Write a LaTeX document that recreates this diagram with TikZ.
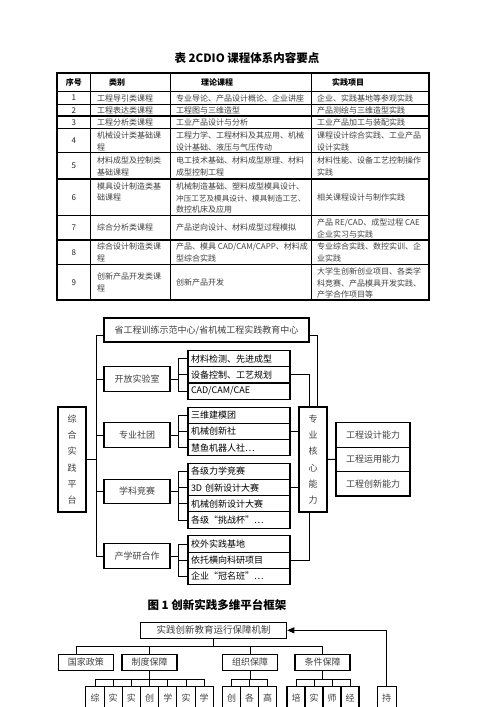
\documentclass[tikz,border=0pt]{standalone}
\usepackage{fontspec}
\setmainfont{Noto Sans CJK SC}
\usetikzlibrary{arrows.meta}

\tikzset{
  box/.style={draw, line width=1.1pt, inner sep=0pt, text=black!75, font=\fontsize{9}{11}\selectfont},
  item/.style={draw, line width=1.1pt, inner sep=0pt, minimum width=102pt, minimum height=16.2pt, text width=96pt, align=left, font=\fontsize{9}{11}\selectfont},
  upright/.style={box, align=center, minimum width=28pt, minimum height=105pt, font=\fontsize{9}{16.2}\selectfont},
  tall/.style={box, align=center, anchor=north, minimum width=18.2pt, minimum height=40pt, font=\fontsize{9}{16}\selectfont},
  link/.style={line width=1pt},
  cell/.style={anchor=west, align=left, inner sep=0pt, text=black!75, font=\fontsize{8}{11.8}\selectfont},
  num/.style={inner sep=0pt, text=black!85, font=\fontsize{8}{10}\selectfont},
  head/.style={inner sep=0pt, font=\fontsize{8}{10}\selectfont\bfseries},
  thin/.style={line width=0.8pt},
  heavy/.style={line width=1.3pt},
}

\begin{document}
\begin{tikzpicture}[x=1pt, y=-1pt]
\useasboundingbox (0,0) rectangle (500,707);
\clip (0,0) rectangle (500,707);

% Table title
\node[font=\fontsize{11.5}{13}\selectfont\bfseries] (ttitle) at (247,58) {表 2CDIO 课程体系内容要点};
% Table rules
\draw[heavy] (57,73) rectangle (429,300);
\draw[heavy] (57,91.7) -- (429,91.7);
\foreach \y in {104.3,128.3,152.7,215.7,264.3} \draw[thin] (57,\y) -- (429,\y);
\foreach \y in {116,179,240} \draw[heavy] (57,\y) -- (429,\y);
\foreach \x in {90.5,170,311} \draw[thin] (\x,73) -- (\x,300);
% Header
\node[head] (h1) at (73.8,82.4) {序号};
\node[head] (h2) at (117,82.4) {类别};
\node[head] (h3) at (217,82.4) {理论课程};
\node[head] (h4) at (348,82.4) {实践项目};
% Rows
\node[num] (n1) at (73.8,98) {1};
\node[cell] (a1) at (97,98) {工程导引类课程};
\node[cell] (b1) at (176,98) {专业导论、产品设计概论、企业讲座};
\node[cell] (c1) at (317,98) {企业、实践基地等参观实践};
\node[num] (n2) at (73.8,110.2) {2};
\node[cell] (a2) at (97,110.2) {工程表达类课程};
\node[cell] (b2) at (176,110.2) {工程图与三维造型};
\node[cell] (c2) at (317,110.2) {产品测绘与三维造型实践};
\node[num] (n3) at (73.8,122.2) {3};
\node[cell] (a3) at (97,122.2) {工程分析类课程};
\node[cell] (b3) at (176,122.2) {工业产品设计与分析};
\node[cell] (c3) at (317,122.2) {工业产品加工与装配实践};
\node[num] (n4) at (73.8,140.5) {4};
\node[cell] (a4) at (97,141.5) {机械设计类基础课\\程};
\node[cell] (b4) at (176,141.5) {工程力学、工程材料及其应用、机械\\设计基础、液压与气压传动};
\node[cell] (c4) at (317,141.5) {课程设计综合实践、工业产品\\设计实践};
\node[num] (n5) at (73.8,165.9) {5};
\node[cell] (a5) at (97,166.5) {材料成型及控制类\\基础课程};
\node[cell] (b5) at (176,166.5) {电工技术基础、材料成型原理、材料\\成型控制工程};
\node[cell] (c5) at (317,166.5) {材料性能、设备工艺控制操作\\实践};
\node[num] (n6) at (73.8,197.4) {6};
\node[cell] (a6) at (97,192) {模具设计制造类基\\础课程};
\node[cell] (b6) at (176,198) {机械制造基础、塑料成型模具设计、\\{\fontsize{7.6}{11.8}\selectfont 冲压工艺及模具设计、模具制造工艺、}\\数控机床及应用};
\node[cell] (c6) at (317,197.4) {相关课程设计与制作实践};
\node[num] (n7) at (73.8,227.9) {7};
\node[cell] (a7) at (97,227.9) {综合分析类课程};
\node[cell] (b7) at (176,227.9) {产品逆向设计、材料成型过程模拟};
\node[cell] (c7) at (317,228.5) {产品 RE/CAD、成型过程 CAE\\企业实习与实践};
\node[num] (n8) at (73.8,252.2) {8};
\node[cell] (a8) at (97,252.5) {综合设计制造类课\\程};
\node[cell] (b8) at (176,252.5) {产品、模具 CAD/CAM/CAPP、材料成\\型综合实践};
\node[cell] (c8) at (317,252.5) {专业综合实践、数控实训、企\\业实践};
\node[num] (n9) at (73.8,282.2) {9};
\node[cell] (a9) at (97,282.2) {创新产品开发类课\\程};
\node[cell] (b9) at (176,282.2) {创新产品开发};
\node[cell] (c9) at (317,283) {大学生创新创业项目、各类学\\科竞赛、产品模具开发实践、\\产学合作项目等};

% Platform framework
\coordinate (busx) at (96,0);
\coordinate (bx) at (178,0);
\node[box, minimum width=205pt, minimum height=24pt] (center) at (206.5,330) {省工程训练示范中心/省机械工程实践教育中心};
\node[upright] (platform) at (72,459.5) {综\\合\\实\\践\\平\\台};
\node[upright] (core) at (313,459.5) {专\\业\\核\\心\\能\\力};
\node[box, minimum width=66pt, minimum height=24.5pt] (lab) at (137,379) {开放实验室};
\node[box, minimum width=66pt, minimum height=24.5pt] (club) at (137,435) {专业社团};
\node[box, minimum width=66pt, minimum height=24.5pt] (contest) at (137,491.5) {学科竞赛};
\node[box, minimum width=66pt, minimum height=24.5pt] (coop) at (137,556) {产学研合作};
\node[item] (lab1) at (239,358.7) {材料检测、先进成型};
\node[item] (lab2) at (239,374.9) {设备控制、工艺规划};
\node[item] (lab3) at (239,391.1) {CAD/CAM/CAE};
\node[item] (club1) at (239,415.3) {三维建模团};
\node[item] (club2) at (239,431.5) {机械创新社};
\node[item] (club3) at (239,447.7) {慧鱼机器人社…};
\node[item] (comp1) at (239,471.4) {各级力学竞赛};
\node[item] (comp2) at (239,487.6) {3D 创新设计大赛};
\node[item] (comp3) at (239,503.8) {机械创新设计大赛};
\node[item] (comp4) at (239,520) {各级“挑战杯”…};
\node[item] (coop1) at (239,544) {校外实践基地};
\node[item] (coop2) at (239,560.2) {依托横向科研项目};
\node[item] (coop3) at (239,576.4) {企业“冠名班”…};
\node[box, minimum width=74pt, minimum height=24.4pt] (abil1) at (373,435) {工程设计能力};
\node[box, minimum width=74pt, minimum height=24.4pt] (abil2) at (373,459.4) {工程运用能力};
\node[box, minimum width=74pt, minimum height=24.4pt] (abil3) at (373,483.8) {工程创新能力};
% left bus
\draw[link] ([yshift=-5pt]center.west) -| (busx |- coop.west) -- (coop.west);
\foreach \n in {lab,club,contest} \draw[link] (\n.west) -- (\n.west -| busx);
\draw[link] (platform.east) -- (platform.east -| busx);
% brackets
\draw[link] (lab1.west) -| (bx |- lab3.west) -- (lab3.west);
\draw[link] (lab.east) -- (lab.east -| bx);
\draw[link] (lab2.west) -- (lab2.west -| bx);
\draw[link] (club1.west) -| (bx |- club3.west) -- (club3.west);
\draw[link] (club.east) -- (club.east -| bx);
\draw[link] (club2.west) -- (club2.west -| bx);
\draw[link] (comp1.west) -| (bx |- comp4.west) -- (comp4.west);
\draw[link] (contest.east) -- (contest.east -| bx);
\foreach \i in {2,3} \draw[link] (comp\i.west) -- (comp\i.west -| bx);
\draw[link] (coop1.west) -| (bx |- coop3.west) -- (coop3.west);
\draw[link] (coop.east) -- (coop.east -| bx);
\draw[link] (coop2.west) -- (coop2.west -| bx);
% into core
\draw[link] ([yshift=-5pt]center.east) -| ([xshift=4pt]core.north);
\draw[link] (lab2.east) -| ([xshift=-4pt]core.north);
\draw[link] (club2.east) -- (club2.east -| core.west);
\draw[link] (comp2.east) -- (comp2.east -| core.west);
\draw[link] (coop2.east) -| ([xshift=-4pt]core.south);
\draw[link] (core.east) -- (abil2.west);
\node[font=\fontsize{11.5}{13}\selectfont\bfseries] (fcap) at (217,605) {图 1 创新实践多维平台框架};

% Guarantee mechanism
\coordinate (hub) at (213.7,646);
\node[box, minimum width=146pt, minimum height=16.3pt, font=\fontsize{9.5}{11}\selectfont] (mech) at (213.7,630.3) {实践创新教育运行保障机制};
\node[box, minimum width=55pt, minimum height=16.4pt] (policy) at (85.8,662.5) {国家政策};
\node[box, minimum width=55pt, minimum height=16.4pt] (system) at (149.5,662.5) {制度保障};
\node[box, minimum width=55pt, minimum height=16.4pt] (org) at (250,662.5) {组织保障};
\node[box, minimum width=55pt, minimum height=16.4pt] (cond) at (322.5,662.5) {条件保障};
\foreach \a/\b [count=\i] in {综/合,实/验,实/践,创/新,学/科,实/习,学/生}
  \node[tall] (sys\i) at ({95+18.2*(\i-1)},685.7) {\a\\\b};
\foreach \a/\b [count=\i] in {创/新,各/项,高/年}
  \node[tall, minimum width=18pt] (org\i) at ({231.7+18*(\i-1)},685.7) {\a\\\b};
\foreach \a/\b [count=\i] in {培/养,实/践,师/资,经/费}
  \node[tall, minimum width=18pt] (cnd\i) at ({296+18*(\i-1)},685.7) {\a\\\b};
\node[tall, minimum width=18.7pt] (keep) at (386.7,685.7) {持\\续};
\draw[link] (mech.south) -- (hub);
\draw[link] ([xshift=-9pt]policy.north) |- (cond.north |- hub) -- (cond.north);
\draw[link] (system.north) -- (system.north |- hub);
\draw[link] (org.north) -- (org.north |- hub);
\draw[link] (system.south) -- ++(0,8.6);
\draw[link] (sys1.north) -- ++(0,-6.4) -| (sys7.north);
\foreach \i in {2,...,6} \draw[link] (sys\i.north) -- ++(0,-6.4);
\draw[link] (org.south) -- ++(0,8.6);
\draw[link] (org1.north) -- ++(0,-6.4) -| (org3.north);
\draw[link] (org2.north) -- ++(0,-6.4);
\draw[link] (cond.south) -- ++(0,8.6);
\draw[link] (cnd1.north) -- ++(0,-6.4) -| (cnd4.north);
\foreach \i in {2,3} \draw[link] (cnd\i.north) -- ++(0,-6.4);
\draw[link, -{Triangle[length=7pt,width=6pt]}] (keep.north) |- (mech.east);
\end{tikzpicture}
\end{document}
